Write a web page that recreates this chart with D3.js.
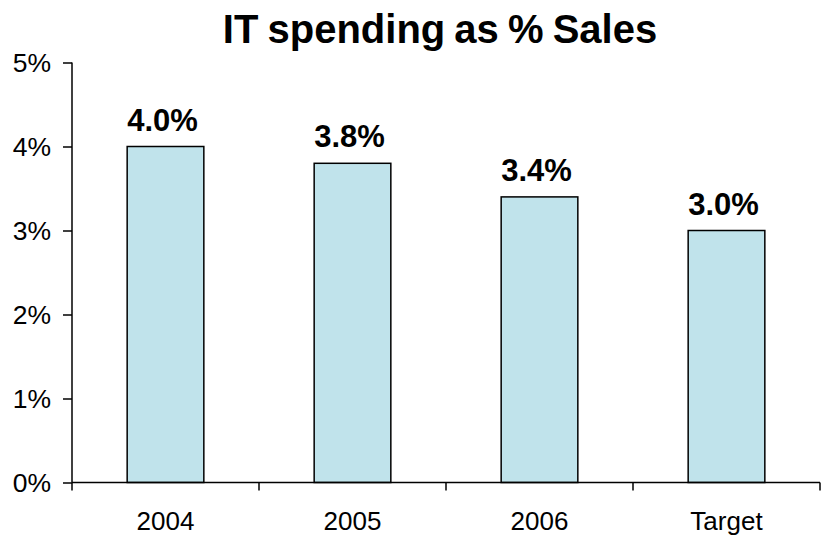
<!DOCTYPE html>
<html>
<head>
<meta charset="utf-8">
<script src="https://cdn.jsdelivr.net/npm/d3@7/dist/d3.min.js"></script>
<style>
  html, body { margin: 0; padding: 0; background: #fff; }
  svg text { font-family: "Liberation Sans", Arial, Helvetica, sans-serif; fill: #000; }
</style>
</head>
<body>
<svg id="chart" width="821" height="538"></svg>
<script>
// Chart data
const categories = ["2004", "2005", "2006", "Target"];
const values = [4.0, 3.8, 3.4, 3.0];           // IT spending, % of sales
const yTicks = [0, 1, 2, 3, 4, 5];
const title = "IT spending as % Sales";

const svg = d3.select("#chart");
const plot = { left: 72, right: 820, top: 62.5, bottom: 482.5 };

const x = d3.scaleBand()
  .domain(categories)
  .range([plot.left, plot.right])
  .paddingInner(0.59)
  .paddingOuter(0.295);

const y = d3.scaleLinear()
  .domain([0, 5])
  .range([plot.bottom, plot.top]);

// Title
svg.append("text")
  .attr("x", 440)
  .attr("y", 43)
  .attr("text-anchor", "middle")
  .style("font-size", "40px")
  .style("font-weight", "bold")
  .style("word-spacing", "-2px")
  .text(title);

// Bars
svg.append("g").selectAll("rect")
  .data(values)
  .join("rect")
  .attr("x", (d, i) => x(categories[i]))
  .attr("y", d => y(d))
  .attr("width", x.bandwidth())
  .attr("height", d => y(0) - y(d))
  .attr("fill", "#C0E3EB")
  .attr("stroke", "#000")
  .attr("stroke-width", 1.5);

// Value labels above bars
svg.append("g").selectAll("text")
  .data(values)
  .join("text")
  .attr("x", (d, i) => x(categories[i]) + x.bandwidth() / 2 - 3)
  .attr("y", d => y(d) - 16)
  .attr("text-anchor", "middle")
  .style("font-size", "31px")
  .style("font-weight", "bold")
  .text(d => d.toFixed(1) + "%");

// Y axis
const yAxis = d3.axisLeft(y)
  .tickValues(yTicks)
  .tickFormat(d => d + "%")
  .tickSize(9)
  .tickPadding(12);

const gy = svg.append("g")
  .attr("transform", `translate(${plot.left},0)`)
  .call(yAxis);
gy.select(".domain").attr("d", `M0,${plot.top}V${plot.bottom}`).attr("stroke", "#000").attr("stroke-width", 1.5);
gy.selectAll(".tick line").attr("stroke", "#000").attr("stroke-width", 1.5);
gy.selectAll(".tick text").style("font-size", "26.5px").attr("dy", "0.35em");

// X axis: ticks at category boundaries, labels centred under bars
const gx = svg.append("g")
  .attr("transform", `translate(0,${plot.bottom})`);
gx.append("line")
  .attr("x1", plot.left).attr("x2", plot.right)
  .attr("stroke", "#000").attr("stroke-width", 1.5);
const boundaries = d3.range(categories.length + 1).map(i => plot.left + i * (plot.right - plot.left) / categories.length);
gx.selectAll("line.tick")
  .data(boundaries)
  .join("line")
  .attr("class", "tick")
  .attr("x1", d => d).attr("x2", d => d)
  .attr("y1", 0).attr("y2", 8)
  .attr("stroke", "#000").attr("stroke-width", 1.5);
gx.selectAll("text")
  .data(categories)
  .join("text")
  .attr("x", d => x(d) + x.bandwidth() / 2)
  .attr("y", 47)
  .attr("text-anchor", "middle")
  .style("font-size", "26px")
  .text(d => d);
</script>
</body>
</html>
